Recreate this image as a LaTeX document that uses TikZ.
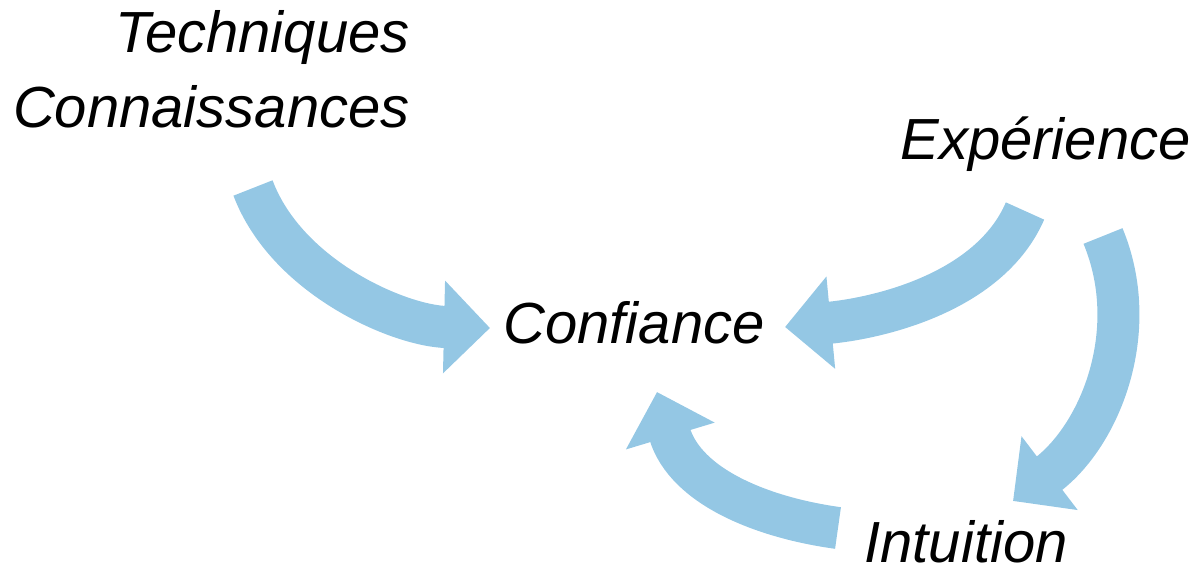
\documentclass[tikz,border=0pt]{standalone}
\usepackage{fontspec}
\setmainfont{Liberation Sans}
\usetikzlibrary{arrows.meta}
\definecolor{arrowblue}{RGB}{148,199,228}
\tikzset{
  label/.style={font=\fontsize{29pt}{31pt}\selectfont\itshape, inner sep=0pt, text=black},
  bigarrow/.style={draw=arrowblue, line width=21pt, line cap=butt,
    -{Triangle[width=45pt,length=23pt]}},
}
\begin{document}
\begin{tikzpicture}[x=0.5pt,y=-0.5pt]
\useasboundingbox (0,0) rectangle (1198,577);
\node[label, anchor=base east] (tech) at (410,53) {Techniques};
\node[label, anchor=base east] (conn) at (410,128) {Connaissances};
\node[label, anchor=base west] (exp) at (900,160) {Expérience};
\node[label, anchor=base west] (conf) at (503,343) {Confiance};
\node[label, anchor=base west] (intu) at (864,562) {Intuition};
% arrow end points
\coordinate (a1s) at (253,188);
\coordinate (a1e) at (490,328);
\coordinate (a2s) at (1025,211);
\coordinate (a2e) at (785,327);
\coordinate (a3s) at (1103,236);
\coordinate (a3e) at (1013,501);
\coordinate (a4s) at (838,528);
\coordinate (a4e) at (657,392);
\draw[bigarrow] (a1s) .. controls (287,278) and (400,326) .. (a1e);
\draw[bigarrow] (a2s) .. controls (990,292) and (880,318) .. (a2e);
\draw[bigarrow] (a3s) .. controls (1142,330) and (1101,434) .. (a3e);
\draw[bigarrow] (a4s) .. controls (765,518) and (686,488) .. (a4e);
\end{tikzpicture}
\end{document}
